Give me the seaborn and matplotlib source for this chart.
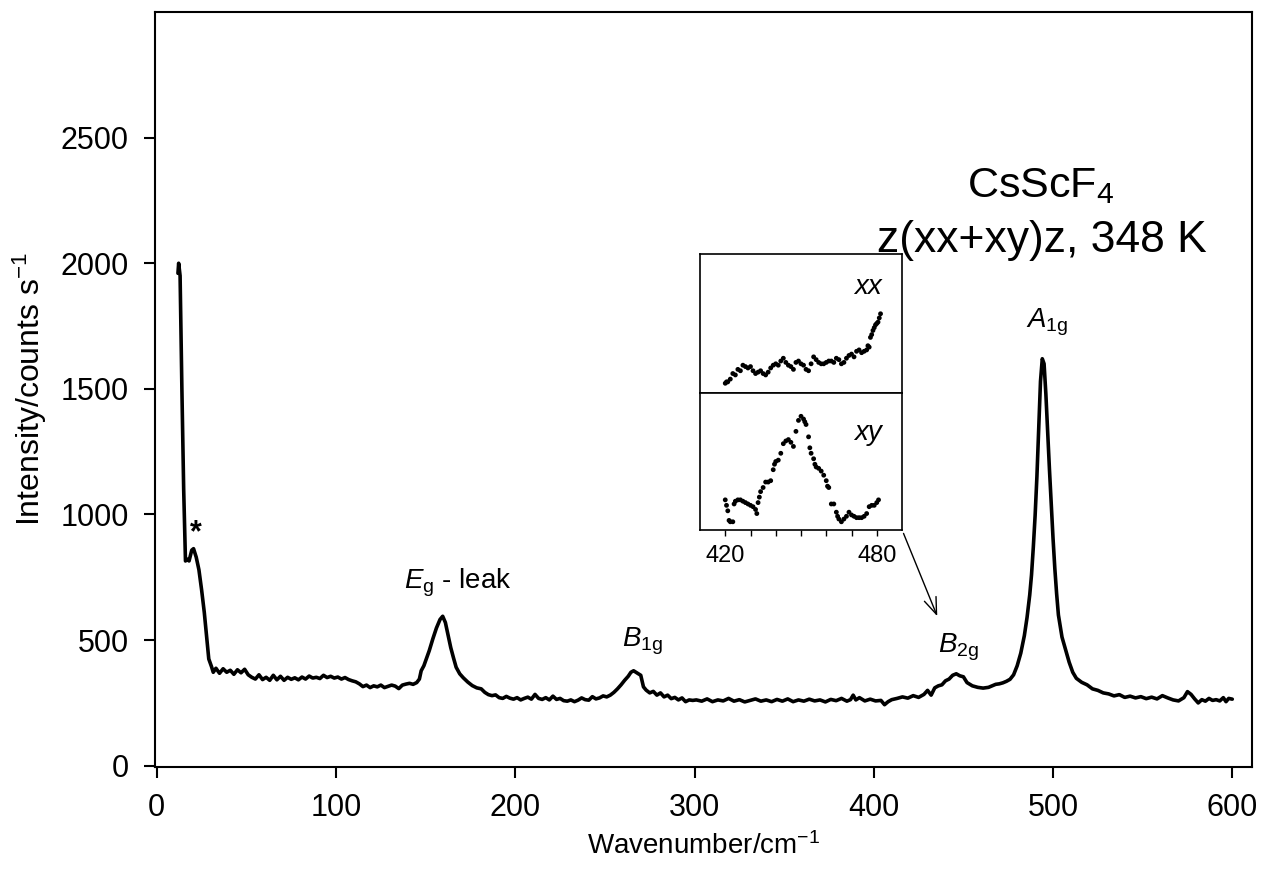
import numpy as np
import pandas as pd
import matplotlib
matplotlib.use('Agg')
import matplotlib.pyplot as plt
import seaborn as sns

# Spectrum (cm-1, counts/s)
wavenumber = [
    11.8, 12.2, 13, 14, 15, 16, 17, 18, 19.5, 20.5, 22, 23.5, 25, 26.5, 28, 29,
    30.5, 31.5, 33, 35, 37, 39, 41, 43, 45, 47, 49, 51, 53, 55, 57, 59, 61, 63,
    65, 67, 69, 71, 73, 75, 77, 79, 81, 83, 85, 87, 89, 91, 93, 95, 97, 99, 101,
    103, 105, 107, 109, 111, 113, 115, 117, 119, 121, 123, 125, 127, 129, 131,
    133, 135, 137, 139, 141, 143, 145, 146.5, 147.5, 149, 150.5, 152, 154, 156,
    158, 159.5, 161, 162.5, 164, 165.5, 167, 169, 171, 173.5, 176, 178.5, 181,
    183, 185, 187, 189, 191, 193, 195, 197, 199, 201, 203, 205, 207, 209, 211,
    213, 215, 217, 219, 221, 223, 225, 227, 229, 231, 233, 235, 237, 239, 241,
    243, 245, 247, 249, 251, 253, 255, 257, 259, 261, 263, 264.5, 266, 268, 270,
    271.5, 273, 275, 277, 279, 281, 283, 285, 287, 289, 291, 293, 295, 297, 299,
    301, 304, 307, 310, 313, 316, 319, 322, 325, 328, 331, 334, 337, 340, 343,
    346, 349, 352, 355, 358, 361, 364, 367, 370, 373, 376, 379, 382, 385, 387,
    388.5, 390, 392, 395, 398, 401, 404, 406, 408, 410, 413, 416, 419, 422, 425,
    428, 430, 432, 434, 436, 438, 440, 442, 444, 446, 448, 450, 452, 455, 458,
    461, 464, 466, 468, 470, 472, 474, 476, 478, 480, 482, 484, 485.5, 487, 488,
    489, 490, 491, 492, 493, 494, 495, 496, 497, 498, 499, 500, 501, 502, 503,
    504, 505, 507, 509, 511, 513, 516, 519, 522, 525, 528, 531, 534, 537, 540,
    543, 546, 549, 552, 555, 558, 561, 564, 567, 570, 573, 575, 577, 579, 581,
    583, 585, 587, 589, 591, 593, 595, 596.5, 598, 600,
]
intensity = [
    1960, 2000, 1950, 1500, 1100, 815, 822, 815, 858, 864, 830, 780, 700, 610,
    500, 425, 395, 372, 388, 368, 386, 372, 380, 364, 382, 370, 384, 362, 352,
    345, 362, 343, 352, 340, 360, 342, 356, 340, 352, 344, 350, 342, 353, 345,
    357, 349, 352, 347, 360, 351, 356, 349, 353, 345, 351, 343, 338, 334, 326,
    315, 321, 311, 318, 314, 321, 311, 316, 321, 317, 307, 321, 325, 328, 324,
    331, 345, 378, 398, 428, 458, 505, 548, 582, 595, 570, 520, 470, 430, 392,
    366, 350, 333, 319, 310, 306, 292, 283, 279, 282, 271, 268, 276, 269, 265,
    271, 262, 268, 273, 265, 284, 268, 264, 271, 262, 277, 264, 268, 259, 257,
    262, 255, 261, 270, 263, 261, 275, 266, 270, 278, 274, 281, 292, 306, 322,
    340, 356, 372, 378, 369, 360, 314, 301, 290, 296, 281, 290, 274, 281, 267,
    272, 262, 270, 255, 262, 260, 262, 257, 266, 255, 262, 258, 268, 257, 263,
    254, 260, 266, 257, 262, 255, 264, 257, 266, 255, 262, 257, 265, 258, 262,
    254, 264, 259, 268, 257, 263, 281, 262, 271, 258, 265, 258, 260, 243, 255,
    263, 268, 274, 269, 279, 272, 284, 300, 281, 310, 318, 322, 338, 345, 360,
    366, 358, 354, 331, 318, 312, 309, 312, 318, 324, 326, 330, 336, 344, 362,
    398, 448, 518, 590, 680, 760, 870, 995, 1150, 1345, 1530, 1620, 1600, 1480,
    1330, 1180, 1040, 905, 785, 685, 600, 555, 512, 462, 412, 372, 348, 332,
    322, 306, 300, 290, 286, 278, 283, 272, 277, 270, 275, 267, 273, 266, 279,
    270, 262, 258, 271, 295, 284, 266, 250, 263, 257, 268, 260, 263, 258, 271,
    255, 268, 265,
]

# Inset: B2g region in the two polarisations (arbitrary units)
xx_shift = [
    420, 420.5, 421, 422, 423, 424, 425, 426, 427, 428, 429, 430, 431, 432, 433,
    434, 435, 436, 437, 438, 439, 440, 441, 442, 443, 444, 445, 446, 447, 448,
    449, 450, 451, 452, 453, 454, 455, 456, 457, 458, 459, 460, 461, 462, 463,
    464, 465, 466, 467, 468, 469, 470, 471, 472, 473, 474, 475, 476, 476.5, 477,
    477.5, 478, 478.5, 479, 479.5, 480, 480.5, 481, 481.5,
]
xx_int = [
    7, 8, 8, 10, 14, 13, 17, 16, 20, 19, 18, 19, 16, 14, 15, 16, 14, 13, 15, 18,
    20, 21, 20, 23, 25, 22, 20, 19, 17, 22, 23, 21, 20, 17, 16, 21, 26, 24, 22,
    21, 21, 22, 23, 23, 22, 25, 24, 21, 22, 25, 27, 28, 26, 30, 31, 29, 30, 31,
    34, 33, 40, 42, 45, 47, 49, 50, 51, 54, 57,
]
xy_shift = [
    420, 420.5, 421, 421.5, 422, 423, 423.5, 424, 425, 426, 427, 428, 429, 430,
    431, 432, 432.5, 433, 433.5, 434, 435, 436, 437, 438, 439, 439.5, 440, 441,
    442, 443, 444, 445, 446, 447, 448, 449, 450, 451, 451.5, 452, 453, 453.5,
    454, 455, 455.5, 456, 457, 458, 459, 460, 460.5, 461, 462, 463, 464, 464.5,
    465, 466, 467, 468, 469, 470, 471, 472, 473, 474, 475, 476, 477, 478, 479,
    480, 480.7,
]
xy_int = [
    22, 18, 14, 7, 6, 6, 19, 21, 22, 22, 21, 20, 19, 18, 17, 15, 12, 20, 24, 28,
    31, 35, 35, 36, 44, 48, 50, 51, 56, 63, 65, 66, 64, 61, 72, 80, 83, 81, 79,
    77, 68, 60, 56, 52, 48, 46, 45, 43, 40, 36, 32, 31, 19, 19, 13, 10, 8, 6, 8,
    10, 13, 11, 10, 9, 9, 9, 10, 12, 17, 18, 18, 20, 22,
]

sns.set_style('ticks')
plt.rcParams['font.family'] = ['Liberation Sans', 'DejaVu Sans']
plt.rcParams['mathtext.fontset'] = 'custom'
plt.rcParams['mathtext.rm'] = 'Liberation Sans'
plt.rcParams['mathtext.it'] = 'Liberation Sans:italic'
for k in ['text.color', 'axes.labelcolor', 'xtick.color', 'ytick.color',
          'axes.edgecolor']:
    plt.rcParams[k] = 'black'

df = pd.DataFrame({'wn': wavenumber, 'I': intensity})
df_xx = pd.DataFrame({'wn': xx_shift, 'I': xx_int})
df_xy = pd.DataFrame({'wn': xy_shift, 'I': xy_int})

fig = plt.figure(figsize=(12.62, 8.72), dpi=100)
ax = fig.add_axes([155 / 1262, 1 - 767 / 872, 1097 / 1262, 755 / 872])

sns.lineplot(data=df, x='wn', y='I', ax=ax, color='black', lw=2.6,
             sort=False, estimator=None)
ax.set_xlim(-1, 611)
ax.set_ylim(-5, 3000)
ax.set_xticks([0, 100, 200, 300, 400, 500, 600])
ax.set_yticks([0, 500, 1000, 1500, 2000, 2500])
ax.tick_params(direction='out', length=8, width=1.5, labelsize=22, pad=11)
ax.set_xlabel('Wavenumber/cm$^{\\mathregular{-1}}$', fontsize=20, labelpad=6)
ax.set_ylabel('Intensity/counts s$^{\\mathregular{-1}}$', fontsize=23, labelpad=8)
for s in ax.spines.values():
    s.set_visible(True)
    s.set_linewidth(1.5)

# labels of the bands
ax.text(22, 925, '*', fontsize=22, fontweight='bold', ha='center', va='center')
ax.text(168, 728, '$E_{\\rm g}$ - leak', fontsize=20, ha='center', va='center')
ax.text(271, 497, '$B_{\\rm 1g}$', fontsize=20, ha='center', va='center')
ax.text(447, 470, '$B_{\\rm 2g}$', fontsize=20, ha='center', va='center')
ax.text(497, 1764, '$A_{\\rm 1g}$', fontsize=20, ha='center', va='center')
ax.text(493, 2309, 'CsScF$_4$', fontsize=31, ha='center', va='center')
ax.text(494, 2090, 'z(xx+xy)z, 348 K', fontsize=32, ha='center', va='center')

# arrow from inset to the B2g band
ax.annotate('', xy=(436, 585), xytext=(416, 935),
            arrowprops=dict(arrowstyle='->,head_length=1.2,head_width=0.45',
                            color='black', lw=1.0))

# inset panels
ax_xx = fig.add_axes([700 / 1262, 1 - 393 / 872, 202 / 1262, 139 / 872])
ax_xy = fig.add_axes([700 / 1262, 1 - 530 / 872, 202 / 1262, 137 / 872])
sns.scatterplot(data=df_xx, x='wn', y='I', ax=ax_xx, color='black', s=12,
                edgecolor='none')
sns.scatterplot(data=df_xy, x='wn', y='I', ax=ax_xy, color='black', s=12,
                edgecolor='none')
for a, lab, ypos in [(ax_xx, 'xx', 0.76), (ax_xy, 'xy', 0.71)]:
    a.set_xlim(410, 490)
    a.set_ylim(0, 100)
    a.set_yticks([])
    a.set_xlabel('')
    a.set_ylabel('')
    for s in a.spines.values():
        s.set_visible(True)
        s.set_linewidth(1.2)
    a.text(0.83, ypos, lab, transform=a.transAxes, fontsize=20,
           style='italic', ha='center', va='center')
ax_xx.set_xticks([])
ax_xy.set_xticks([420, 430, 440, 450, 460, 470, 480])
ax_xy.set_xticklabels(['420', '', '', '', '', '', '480'])
ax_xy.tick_params(direction='out', length=4, width=1, labelsize=17, pad=7)

fig.savefig('out.png', dpi=100, facecolor='white')
